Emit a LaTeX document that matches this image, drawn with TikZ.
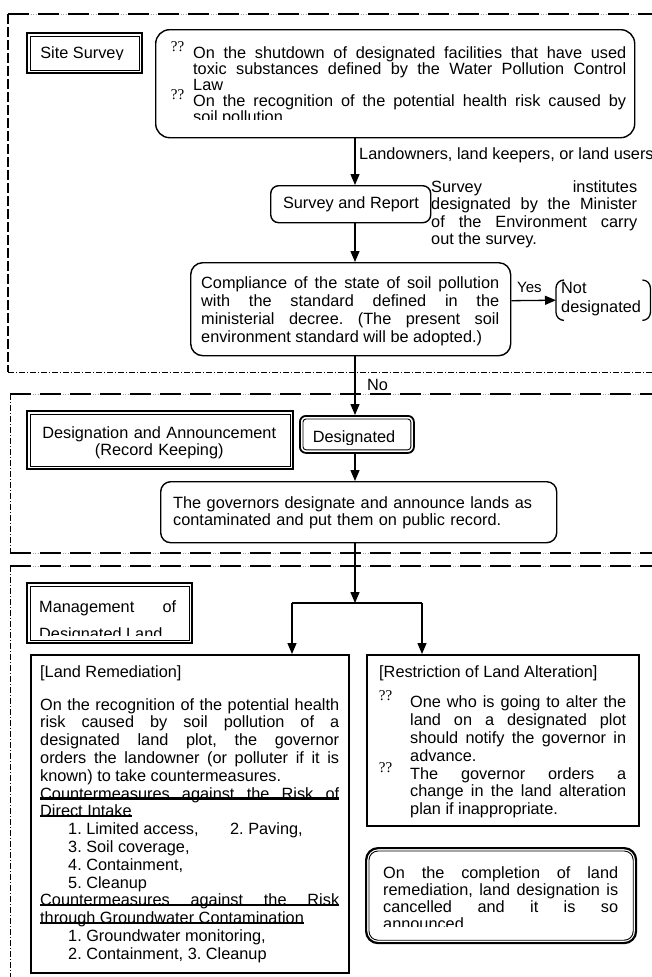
\documentclass[tikz,border=0pt]{standalone}
\usepackage{fontspec}
\setmainfont{Liberation Sans}
\newfontfamily\qqfont{Liberation Serif}
\usetikzlibrary{arrows.meta}
\newcommand\hang[1]{\leavevmode\hangindent=#1\hangafter=0\relax}
\newcommand\qqmark[1]{\llap{\smash{\raisebox{7pt}{\qqfont\fontsize{15}{15}\selectfont ??}}\hspace{#1}}}
\newcommand\ulfull{\leavevmode\rlap{\rule[-0.6pt]{\linewidth}{2.6pt}}}
\newcommand\ulword[1]{\leavevmode\setbox0\hbox{#1}\rlap{\rule[-0.6pt]{\wd0}{2.6pt}}\box0}
\tikzset{
  every node/.style={inner sep=0pt, font=\fontsize{16.3}{17.8}\selectfont},
  txt/.style={anchor=base west},
  just/.style={anchor=base west, align=justify},
  roundbox/.style={draw, line width=1.4pt, rounded corners=#1},
  plainbox/.style={draw, line width=2pt},
  dblout/.style={draw, line width=2.2pt},
  dblin/.style={draw, line width=0.9pt},
  arr/.style={line width=1.3pt, -{Triangle[width=9pt,length=11pt]}},
  zonethick/.style={line width=2.2pt, dash pattern=on 21pt off 9pt},
  zonefaint/.style={line width=0.5pt, black!35, dash pattern=on 1pt off 1.5pt},
  zonethin/.style={line width=0.7pt, dash pattern=on 6pt off 2pt on 1pt off 2pt},
}
\begin{document}
\frenchspacing
\begin{tikzpicture}[x=1pt,y=-1pt]
\useasboundingbox (0,0) rectangle (652,977);
\coordinate (axis) at (355,0);

\draw[zonefaint] (8,14) -- (652,14);
\draw[zonethick] (8,14) -- (652,14);
\draw[line width=2.2pt, dash pattern=on 10pt off 3pt] (8,14) -- (8,372);
\draw[zonethin] (8,372) -- (652,372);
\draw[zonefaint] (10,394) -- (652,394);
\draw[zonethick] (10,394) -- (652,394);
\draw[zonethin] (10,394) -- (10,553);
\draw[zonefaint] (10,553) -- (652,553);
\draw[zonethick] (10,553) -- (652,553);
\draw[zonefaint] (10,566) -- (652,566);
\draw[zonethick] (10,566) -- (652,566);
\draw[zonethin] (10,566) -- (10,977);

\node[dblout, minimum width=115pt, minimum height=40pt, anchor=north west] (site) at (26,32) {};
\draw[dblin] ([shift={(4,4)}]site.north west) rectangle ([shift={(-4,-4)}]site.south east);
\begin{scope}
  \clip (26,32) rectangle (141,59.5);
  \node[anchor=base] (site-t) at (82,58) {Site Survey};
\end{scope}

\node[roundbox=14pt, minimum width=479pt, minimum height=108pt, anchor=north west] (facts) at (155,29) {};
\begin{scope}
  \clip (155,29) rectangle (634,119);
  \node[just, text width=455pt, font=\fontsize{16.3}{16}\selectfont] (facts-t) at (171,58)
    {\hang{22pt}\qqmark{9pt}On the shutdown of designated facilities that have used\linebreak
     toxic substances defined by the Water Pollution Control\linebreak Law\\
     \qqmark{9pt}On the recognition of the potential health risk caused by\linebreak soil pollution\par};
\end{scope}

\node[txt] (who) at (359,159) {Landowners, land keepers, or land users};

\node[roundbox=8pt, minimum width=160pt, minimum height=37pt, anchor=north west] (survey) at (270,185) {};
\node[anchor=base] (survey-t) at (351,208) {Survey and Report};
\node[just, text width=206pt, font=\fontsize{16.3}{17.5}\selectfont] (agent) at (431,192)
  {Survey institutes\linebreak designated by the Minister\linebreak of the Environment carry\linebreak out the survey.};

\node[roundbox=12pt, minimum width=320pt, minimum height=93pt, anchor=north west] (comply) at (190,262) {};
\node[just, text width=298pt, font=\fontsize{16.3}{18}\selectfont] (comply-t) at (201,288)
  {Compliance of the state of soil pollution\linebreak with the standard defined in the\linebreak
   ministerial decree. (The present soil\linebreak \parfillskip=0pt environment standard will be adopted.)};

\node[minimum width=94pt, minimum height=40pt, anchor=north west] (notdes) at (556,280) {};
\node[txt, text width=85pt, align=left, font=\fontsize{16.3}{19}\selectfont] (notdes-t) at (561,293) {Not\\designated};
\draw[line width=1.3pt] ([xshift=8pt]notdes.north west) to[out=180,in=90] ([yshift=-8pt]notdes.north west)
  -- ([yshift=8pt]notdes.south west) to[out=-90,in=180] ([xshift=8pt]notdes.south west);
\draw[line width=1.3pt] ([xshift=-8pt]notdes.north east) to[out=0,in=90] ([yshift=-8pt]notdes.north east)
  -- ([yshift=8pt]notdes.south east) to[out=-90,in=0] ([xshift=-8pt]notdes.south east);
\node[txt, font=\fontsize{15}{15}\selectfont] (yes) at (517,292) {Yes};

\node[txt] (no) at (367,390) {No};

\node[draw, line width=1.8pt, rounded corners=6pt, minimum width=114pt, minimum height=37pt, anchor=north west] (desig) at (299,415) {};
\draw[dblin, rounded corners=3pt] ([shift={(4,4)}]desig.north west) rectangle ([shift={(-4,-4)}]desig.south east);
\begin{scope}
  \clip (299,415) rectangle (413,444);
  \node[anchor=base] (desig-t) at (354,442) {Designated};
\end{scope}

\node[dblout, minimum width=266pt, minimum height=58pt, anchor=north west] (announce) at (26,410) {};
\draw[dblin] ([shift={(4,4)}]announce.north west) rectangle ([shift={(-4,-4)}]announce.south east);
\node[txt, text width=266pt, align=center, font=\fontsize{16.3}{17}\selectfont] (announce-t) at (26,438)
  {Designation and Announcement\\(Record Keeping)};

\node[roundbox=10pt, minimum width=396pt, minimum height=61pt, anchor=north west] (gov) at (160,481) {};
\node[txt, text width=375pt, align=left, font=\fontsize{16.3}{17}\selectfont] (gov-t) at (173,508)
  {The governors designate and announce lands as\\contaminated and put them on public record.};

\node[dblout, minimum width=165pt, minimum height=60pt, anchor=north west] (manage) at (26,582) {};
\draw[dblin] ([shift={(4,4)}]manage.north west) rectangle ([shift={(-4,-4)}]manage.south east);
\begin{scope}
  \clip (30,586) rectangle (187,635);
  \node[just, text width=137pt, font=\fontsize{16.3}{27}\selectfont] (manage-t) at (39,612)
    {Management of\linebreak Designated Land};
\end{scope}

\node[plainbox, minimum width=318pt, minimum height=318pt, anchor=north west] (remedy) at (30,654) {};
\node[just, text width=299pt] (remedy-t) at (40,677)
  {[Land Remediation]\\[15.2pt]
   On the recognition of the potential health\linebreak risk caused by soil pollution of a\linebreak
   designated land plot, the governor\linebreak orders the landowner (or polluter if it is\linebreak
   known) to take countermeasures.\\
   \ulfull Countermeasures against the Risk of\linebreak \ulword{Direct Intake}\\
   \hspace*{28pt}\makebox[162pt][l]{1. Limited access,}2. Paving,\\
   \hspace*{28pt}3. Soil coverage,\\
   \hspace*{28pt}4. Containment,\\
   \hspace*{28pt}5. Cleanup\\
   \ulfull Countermeasures against the Risk\linebreak \ulword{through Groundwater Contamination}\\
   \hspace*{28pt}1. Groundwater monitoring,\\
   \hspace*{28pt}2. Containment, 3. Cleanup};

\node[plainbox, minimum width=272pt, minimum height=171pt, anchor=north west] (restrict) at (366,654) {};
\node[just, text width=247pt] (restrict-t) at (379,677)
  {[Restriction of Land Alteration]\par\vspace{13pt}
   \hang{31pt}\qqmark{18pt}One who is going to alter the\linebreak land on a designated plot\linebreak
   should notify the governor in\linebreak advance.\\
   \qqmark{18pt}The governor orders a\linebreak change in the land alteration\linebreak plan if inappropriate.\par};

\node[draw, line width=2.2pt, rounded corners=12pt, minimum width=270pt, minimum height=95pt, anchor=north west] (done) at (365,847) {};
\draw[dblin, rounded corners=9pt] ([shift={(4,4)}]done.north west) rectangle ([shift={(-4,-4)}]done.south east);
\begin{scope}
  \clip (369,851) rectangle (631,926);
  \node[just, text width=235pt, font=\fontsize{16.3}{17}\selectfont] (done-t) at (383,878)
    {On the completion of land\linebreak remediation, land designation is\linebreak cancelled and it is so\linebreak announced};
\end{scope}

\coordinate (fork) at (355,603);
\coordinate (forkL) at (292,603);
\coordinate (forkR) at (422,603);
\draw[arr] (facts.south -| axis) -- (survey.north -| axis);
\draw[arr] (survey.south -| axis) -- (comply.north -| axis);
\draw[arr] ([yshift=8.5pt]comply.east) -- (notdes.west);
\draw[arr] (comply.south -| axis) -- (desig.north -| axis);
\draw[arr] (desig.south -| axis) -- (gov.north -| axis);
\draw[arr] (gov.south -| axis) -- (fork);
\draw[line width=1.3pt] (forkL) -- (forkR);
\draw[arr] (forkL) -- (remedy.north -| forkL);
\draw[arr] (forkR) -- (restrict.north -| forkR);
\end{tikzpicture}
\end{document}
